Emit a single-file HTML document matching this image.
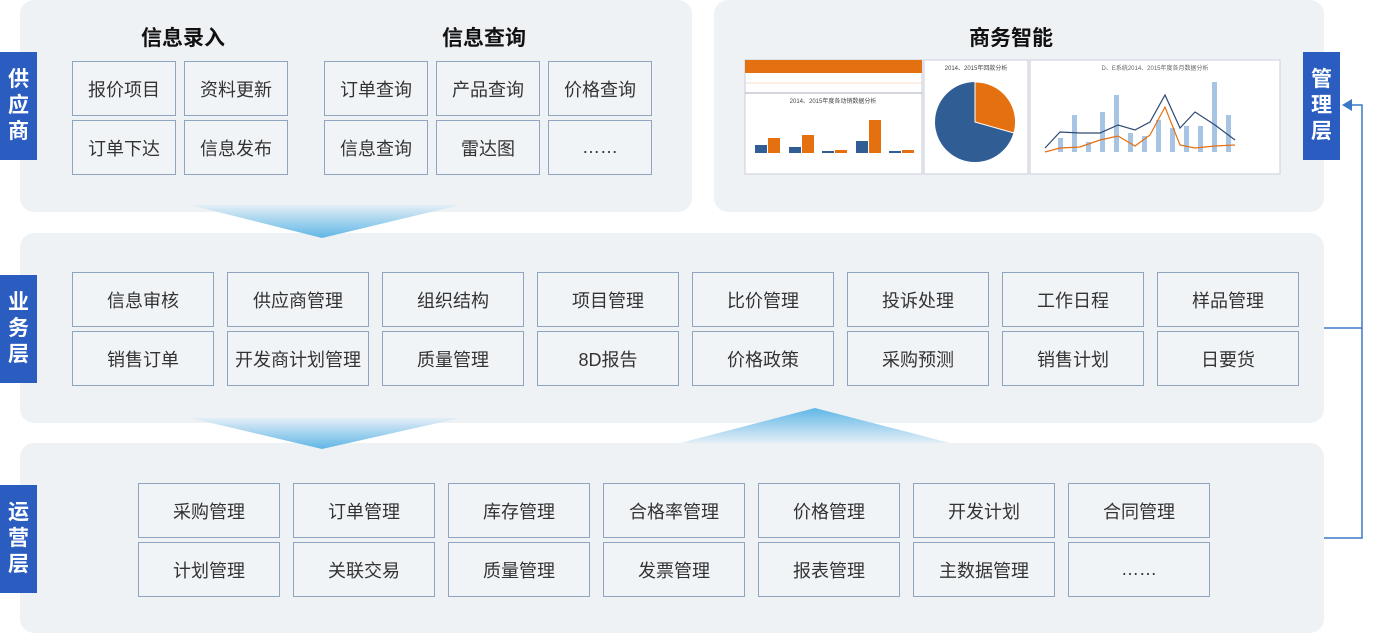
<!DOCTYPE html>
<html><head><meta charset="utf-8"><style>
*{margin:0;padding:0;box-sizing:border-box}
body{width:1379px;height:635px;background:#fff;position:relative;overflow:hidden;font-family:"Liberation Sans","Noto Sans CJK SC",sans-serif}
.p{position:absolute;background:#eef2f5;border-radius:14px}
.lab{position:absolute;width:37px;height:108px;background:#2b5dc1;color:#fff;font-weight:bold;font-size:21px;line-height:26px;text-align:center;padding-top:15px}
.b{position:absolute;border:1.5px solid #8fa4bf;background:#f1f4f7;color:#333;font-size:18px;display:flex;align-items:center;justify-content:center}
.t{position:absolute;font-size:21px;font-weight:bold;color:#111;transform:translateX(-50%)}
</style></head><body>
<div class="p" style="left:20px;top:0;width:672px;height:212px"></div>
<div class="p" style="left:714px;top:0;width:610px;height:212px"></div>
<div class="p" style="left:20px;top:233px;width:1304px;height:190px"></div>
<div class="p" style="left:20px;top:443px;width:1304px;height:190px"></div>
<svg width="1379" height="635" style="position:absolute;left:0;top:0">
<defs><linearGradient id="g" x1="0" y1="0" x2="0" y2="1"><stop offset="0" stop-color="#e3eef6"/><stop offset="1" stop-color="#5fb6e6"/></linearGradient>
<linearGradient id="g2" x1="0" y1="1" x2="0" y2="0"><stop offset="0" stop-color="#e3eef6"/><stop offset="1" stop-color="#5fb6e6"/></linearGradient></defs>
<polygon points="190,205 460,205 322,238" fill="url(#g)"/>
<polygon points="190,418 460,418 322,449" fill="url(#g)"/>
<polygon points="680,443 950,443 815,408" fill="url(#g2)"/>
<polyline points="1324,328 1362,328 1362,105 1346,105" fill="none" stroke="#3a78c8" stroke-width="1.5"/>
<polyline points="1324,538 1362,538 1362,328" fill="none" stroke="#3a78c8" stroke-width="1.5"/>
<polygon points="1342,105 1352,99 1352,111" fill="#3a78c8"/>
<!-- charts -->
<rect x="745" y="60" width="177" height="114" fill="#fff" stroke="#ccd"/>
<rect x="745" y="60" width="177" height="13" fill="#e5700f"/>
<line x1="745" y1="83" x2="922" y2="83" stroke="#f0c090" stroke-width=".6"/>
<line x1="745" y1="93" x2="922" y2="93" stroke="#aab"/>
<text x="833" y="103" font-size="6" text-anchor="middle" fill="#444">2014、2015年度各动销数据分析</text>
<g fill="#2f5d94"><rect x="755" y="145" width="12" height="8"/><rect x="789" y="147" width="12" height="6"/><rect x="822" y="151" width="12" height="2"/><rect x="856" y="141" width="12" height="12"/><rect x="889" y="151" width="12" height="2"/></g>
<g fill="#e5700f"><rect x="768" y="138" width="12" height="15"/><rect x="802" y="135" width="12" height="18"/><rect x="835" y="150" width="12" height="3"/><rect x="869" y="120" width="12" height="33"/><rect x="902" y="150" width="12" height="3"/></g>
<rect x="924" y="60" width="104" height="114" fill="#fff" stroke="#ccd"/>
<text x="976" y="70" font-size="6" text-anchor="middle" fill="#444">2014、2015年回款分析</text>
<circle cx="975" cy="122" r="40" fill="#2f5d94"/>
<path d="M975,122 L975,82 A40,40 0 0,1 1014,133 Z" fill="#e5700f" stroke="#fff" stroke-width="1"/>
<rect x="1030" y="60" width="250" height="114" fill="#fff" stroke="#ccd"/>
<text x="1155" y="70" font-size="6" text-anchor="middle" fill="#666">D、E系统2014、2015年度各月数据分析</text>
<g fill="#a8c4e4"><rect x="1058" y="138" width="5" height="14"/><rect x="1072" y="115" width="5" height="37"/><rect x="1086" y="142" width="5" height="10"/><rect x="1100" y="112" width="5" height="40"/><rect x="1114" y="95" width="5" height="57"/><rect x="1128" y="133" width="5" height="19"/><rect x="1142" y="136" width="5" height="16"/><rect x="1156" y="120" width="5" height="32"/><rect x="1170" y="128" width="5" height="24"/><rect x="1184" y="126" width="5" height="26"/><rect x="1198" y="126" width="5" height="26"/><rect x="1212" y="82" width="5" height="70"/><rect x="1226" y="115" width="5" height="37"/></g>
<polyline points="1045,148 1060,132 1080,133 1100,133 1118,125 1135,130 1150,122 1165,95 1180,128 1195,112 1215,125 1235,140" fill="none" stroke="#2d4a73" stroke-width="1.2"/>
<polyline points="1045,152 1060,148 1080,147 1100,140 1118,136 1135,146 1150,135 1165,107 1180,145 1195,148 1215,146 1235,145" fill="none" stroke="#e5700f" stroke-width="1.2"/>
</svg>
<div class="lab" style="left:0;top:52px">供<br>应<br>商</div>
<div class="lab" style="left:1303px;top:52px">管<br>理<br>层</div>
<div class="lab" style="left:0;top:275px">业<br>务<br>层</div>
<div class="lab" style="left:0;top:485px">运<br>营<br>层</div>
<div class="t" style="left:183px;top:22px">信息录入</div>
<div class="t" style="left:484px;top:22px">信息查询</div>
<div class="t" style="left:1011px;top:22px">商务智能</div>
<div class="b" style="left:72px;top:61px;width:104px;height:55px">报价项目</div>
<div class="b" style="left:184px;top:61px;width:104px;height:55px">资料更新</div>
<div class="b" style="left:72px;top:120px;width:104px;height:55px">订单下达</div>
<div class="b" style="left:184px;top:120px;width:104px;height:55px">信息发布</div>
<div class="b" style="left:324px;top:61px;width:104px;height:55px">订单查询</div>
<div class="b" style="left:436px;top:61px;width:104px;height:55px">产品查询</div>
<div class="b" style="left:548px;top:61px;width:104px;height:55px">价格查询</div>
<div class="b" style="left:324px;top:120px;width:104px;height:55px">信息查询</div>
<div class="b" style="left:436px;top:120px;width:104px;height:55px">雷达图</div>
<div class="b" style="left:548px;top:120px;width:104px;height:55px">……</div>

<div class="b" style="left:72px;top:272px;width:142px;height:55px">信息审核</div>
<div class="b" style="left:227px;top:272px;width:142px;height:55px">供应商管理</div>
<div class="b" style="left:382px;top:272px;width:142px;height:55px">组织结构</div>
<div class="b" style="left:537px;top:272px;width:142px;height:55px">项目管理</div>
<div class="b" style="left:692px;top:272px;width:142px;height:55px">比价管理</div>
<div class="b" style="left:847px;top:272px;width:142px;height:55px">投诉处理</div>
<div class="b" style="left:1002px;top:272px;width:142px;height:55px">工作日程</div>
<div class="b" style="left:1157px;top:272px;width:142px;height:55px">样品管理</div>
<div class="b" style="left:72px;top:331px;width:142px;height:55px">销售订单</div>
<div class="b" style="left:227px;top:331px;width:142px;height:55px">开发商计划管理</div>
<div class="b" style="left:382px;top:331px;width:142px;height:55px">质量管理</div>
<div class="b" style="left:537px;top:331px;width:142px;height:55px">8D报告</div>
<div class="b" style="left:692px;top:331px;width:142px;height:55px">价格政策</div>
<div class="b" style="left:847px;top:331px;width:142px;height:55px">采购预测</div>
<div class="b" style="left:1002px;top:331px;width:142px;height:55px">销售计划</div>
<div class="b" style="left:1157px;top:331px;width:142px;height:55px">日要货</div>

<div class="b" style="left:138px;top:483px;width:142px;height:55px">采购管理</div>
<div class="b" style="left:293px;top:483px;width:142px;height:55px">订单管理</div>
<div class="b" style="left:448px;top:483px;width:142px;height:55px">库存管理</div>
<div class="b" style="left:603px;top:483px;width:142px;height:55px">合格率管理</div>
<div class="b" style="left:758px;top:483px;width:142px;height:55px">价格管理</div>
<div class="b" style="left:913px;top:483px;width:142px;height:55px">开发计划</div>
<div class="b" style="left:1068px;top:483px;width:142px;height:55px">合同管理</div>
<div class="b" style="left:138px;top:542px;width:142px;height:55px">计划管理</div>
<div class="b" style="left:293px;top:542px;width:142px;height:55px">关联交易</div>
<div class="b" style="left:448px;top:542px;width:142px;height:55px">质量管理</div>
<div class="b" style="left:603px;top:542px;width:142px;height:55px">发票管理</div>
<div class="b" style="left:758px;top:542px;width:142px;height:55px">报表管理</div>
<div class="b" style="left:913px;top:542px;width:142px;height:55px">主数据管理</div>
<div class="b" style="left:1068px;top:542px;width:142px;height:55px">……</div>
</body></html>
